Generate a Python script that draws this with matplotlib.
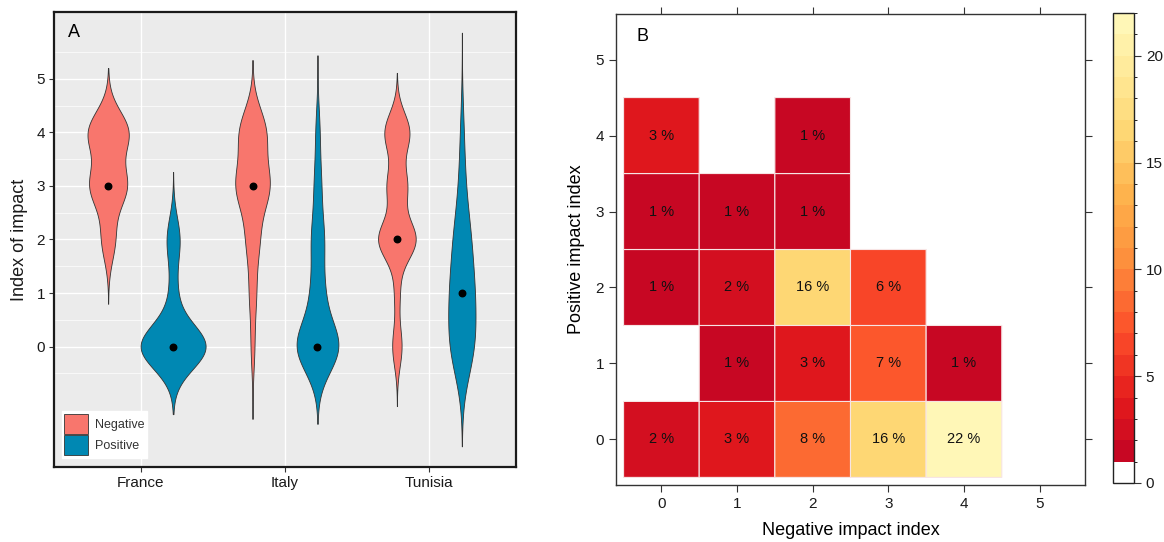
import numpy as np
import matplotlib as mpl
import matplotlib.pyplot as plt
from matplotlib.colors import ListedColormap, BoundaryNorm
from matplotlib.patches import Patch

plt.rcParams['font.family'] = ['Liberation Sans', 'DejaVu Sans']

# ---- data, panel A (response weights per index value 0..5)
countries = ['France', 'Italy', 'Tunisia']
index_values = [0, 1, 2, 3, 4, 5]
france_neg = [0, 0, 7, 19, 21, 0]
france_pos = [33, 3.5, 6.5, 0, 0, 0]
italy_neg = [1.7, 3.2, 6, 15.5, 12.5, 0]
italy_pos = [21, 6, 6, 3.3, 2, 0]
tunisia_neg = [4.5, 2.5, 18, 9.5, 12, 0]
tunisia_pos = [10.5, 9.5, 7, 2.5, 1.5, 0]
bw_neg = [0.40, 0.45, 0.37]
bw_pos = [0.42, 0.48, 0.62]

# ---- data, panel B (percent of respondents; rows = positive index, cols = negative index)
neg_index = [0, 1, 2, 3, 4, 5]
pos_index = [0, 1, 2, 3, 4, 5]
pct_pos0 = [2, 3, 8, 16, 22, np.nan]
pct_pos1 = [np.nan, 1, 3, 7, 1, np.nan]
pct_pos2 = [1, 2, 16, 6, np.nan, np.nan]
pct_pos3 = [1, 1, 1, np.nan, np.nan, np.nan]
pct_pos4 = [3, np.nan, 1, np.nan, np.nan, np.nan]
pct_pos5 = [np.nan] * 6
cbar_ticks = [0, 5, 10, 15, 20]

NEG_COL = '#F8766D'
POS_COL = '#0088B3'


def kde(weights, bw):
    w = np.asarray(weights, float)
    v = np.asarray(index_values, float)
    nz = v[w > 0]
    y = np.linspace(nz.min() - 3 * bw, nz.max() + 3 * bw, 512)
    d = (w[None, :] * np.exp(-0.5 * ((y[:, None] - v[None, :]) / bw) ** 2)).sum(1)
    d = d / (w.sum() * bw * np.sqrt(2 * np.pi))
    return y, d


def wmedian(weights):
    c = np.cumsum(weights)
    return index_values[int(np.searchsorted(c, c[-1] / 2.0))]


fig = plt.figure(figsize=(11.64, 5.42), dpi=100)
W, H = 1164.0, 542.0

# ================= panel A
axA = fig.add_axes([54 / W, (H - 467) / H, 462 / W, 455 / H])
groups = [(france_neg, bw_neg[0], 0, -1), (france_pos, bw_pos[0], 0, 1),
          (italy_neg, bw_neg[1], 1, -1), (italy_pos, bw_pos[1], 1, 1),
          (tunisia_neg, bw_neg[2], 2, -1), (tunisia_pos, bw_pos[2], 2, 1)]
dens = [kde(g[0], g[1]) for g in groups]
dmax = max(d.max() for _, d in dens)
ymin = min(y.min() for y, _ in dens)
ymax = max(y.max() for y, _ in dens)

for (wts, bw, ci, side), (y, d) in zip(groups, dens):
    xc = ci + 1 + side * 0.225
    hw = 0.225 * d / dmax
    col = NEG_COL if side < 0 else POS_COL
    axA.fill_betweenx(y, xc - hw, xc + hw, facecolor=col, edgecolor='#333333', lw=0.6, zorder=2)
    axA.scatter([xc], [wmedian(wts)], s=22, color='black', zorder=3)

pad = 0.05 * (ymax - ymin)
axA.set_xlim(0.4, 3.6)
axA.set_ylim(ymin - pad, ymax + pad)
axA.set_facecolor('#EBEBEB')
axA.set_xticks([1, 2, 3])
axA.set_xticklabels(countries)
axA.set_yticks(range(6))
axA.set_yticks(np.arange(-0.5, 6, 1), minor=True)
axA.grid(which='major', color='white', lw=1.0)
axA.grid(which='minor', axis='y', color='white', lw=0.5)
axA.set_axisbelow(True)
axA.tick_params(which='major', length=3.5, width=0.8, color='#333333', labelsize=11,
                labelcolor='#1a1a1a', pad=3)
axA.tick_params(which='minor', length=0)
for s in axA.spines.values():
    s.set_color('#1a1a1a')
    s.set_linewidth(1.6)
axA.set_ylabel('Index of impact', fontsize=13, color='#1a1a1a', labelpad=6)
axA.text(0.03, 0.954, 'A', transform=axA.transAxes, fontsize=13, va='center', ha='left')
handles = [Patch(facecolor=NEG_COL, edgecolor='#333333', lw=0.6, label='Negative'),
           Patch(facecolor=POS_COL, edgecolor='#333333', lw=0.6, label='Positive')]
leg = axA.legend(handles=handles, loc='lower left', bbox_to_anchor=(0.017, 0.02),
                 borderaxespad=0, fontsize=9, handlelength=1.9, handleheight=2.1,
                 labelspacing=0.1, handletextpad=0.55, borderpad=0.2,
                 fancybox=False, framealpha=1, edgecolor='white')
for t in leg.get_texts():
    t.set_color('#333333')

# ================= panel B
axB = fig.add_axes([616 / W, (H - 485) / H, 469 / W, 471 / H])
grid = np.array([pct_pos0, pct_pos1, pct_pos2, pct_pos3, pct_pos4, pct_pos5], float)
cols = ['white'] + [plt.cm.YlOrRd(t) for t in np.linspace(0.84, 0.06, 21)]
cmap = ListedColormap(cols)
norm = BoundaryNorm(np.arange(0, 23, 1), cmap.N)
edges_x = np.arange(neg_index[0] - 0.5, neg_index[-1] + 1, 1)
edges_y = np.arange(pos_index[0] - 0.5, pos_index[-1] + 1, 1)
axB.pcolor(edges_x, edges_y, np.ma.masked_invalid(grid), cmap=cmap, norm=norm,
           edgecolors='#F7E4E4', linewidth=0.8)
for r, py in enumerate(pos_index):
    for c, nx in enumerate(neg_index):
        v = grid[r, c]
        if not np.isnan(v):
            axB.text(nx, py, '%d %%' % v, ha='center', va='center', fontsize=10.5, color='#111111')
axB.set_xlim(-0.6, 5.6)
axB.set_ylim(-0.6, 5.6)
axB.set_xticks(neg_index)
axB.set_yticks(pos_index)
axB.tick_params(direction='out', length=5, width=0.8, color='#333333', top=True, right=True,
                labelsize=11, labelcolor='#1a1a1a')
for s in axB.spines.values():
    s.set_color('#333333')
    s.set_linewidth(1.0)
axB.set_xlabel('Negative impact index', fontsize=13, labelpad=8)
axB.set_ylabel('Positive impact index', fontsize=13, labelpad=8)
axB.text(0.043, 0.953, 'B', transform=axB.transAxes, fontsize=13, va='center', ha='left')

# ================= colour key
cax = fig.add_axes([1113 / W, (H - 483) / H, 21 / W, 470 / H])
cb = mpl.colorbar.ColorbarBase(cax, cmap=cmap, norm=norm, ticks=cbar_ticks)
cb.outline.set_linewidth(1.0)
cb.outline.set_edgecolor('#222222')
cax.tick_params(length=5, width=0.8, color='#333333', labelsize=11, labelcolor='#1a1a1a')

fig.savefig('out.png', dpi=100)
